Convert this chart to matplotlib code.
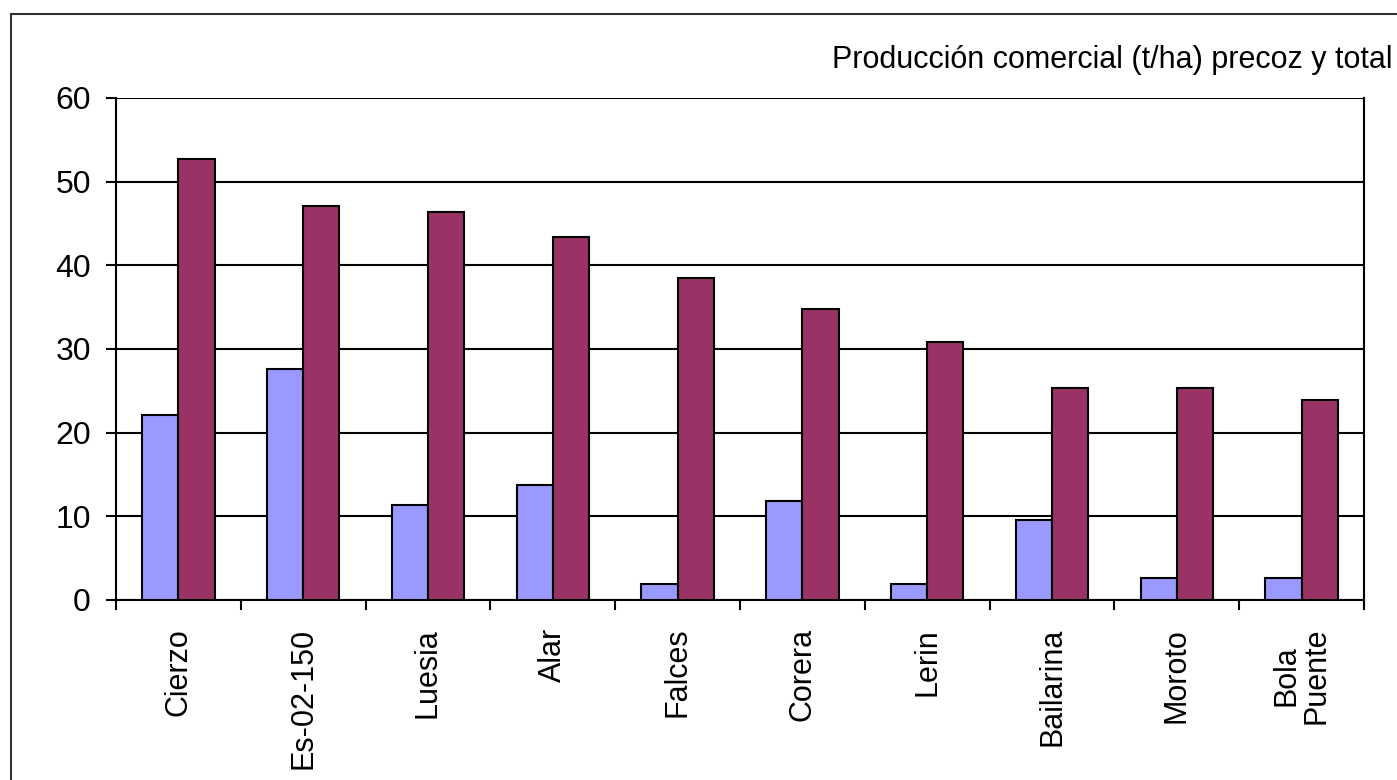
import numpy as np
import matplotlib.pyplot as plt
from matplotlib.patches import Rectangle

plt.rcParams['font.family'] = ['Liberation Sans', 'DejaVu Sans']

# datos
variedades = ['Cierzo', 'Es-02-150', 'Luesia', 'Alar', 'Falces', 'Corera',
              'Lerin', 'Bailarina', 'Moroto', 'Bola\nPuente']
precoz = [22.1, 27.6, 11.4, 13.7, 1.9, 11.8, 1.9, 9.6, 2.6, 2.6]
total = [52.7, 47.1, 46.4, 43.4, 38.5, 34.8, 30.8, 25.3, 25.3, 23.9]
yticks = [0, 10, 20, 30, 40, 50, 60]

fig = plt.figure(figsize=(13.97, 7.8), dpi=100)
ax = fig.add_axes([0.0830, 0.2308, 0.8934, 0.6436])

# marco exterior
fig.patches.append(Rectangle((11/1397, -0.05), 1.2, 1 - 14/780 + 0.05,
                             transform=fig.transFigure, fill=False,
                             edgecolor='#333333', linewidth=1.5))

x = np.arange(len(variedades))
w = 0.29
ax.bar(x - w/2, precoz, w, color='#9999FF', edgecolor='black', linewidth=1.5, zorder=3)
ax.bar(x + w/2, total, w, color='#993366', edgecolor='black', linewidth=1.5, zorder=3)

ax.set_xlim(-0.5, len(variedades) - 0.5)
ax.set_ylim(0, 60)
ax.set_yticks(yticks)
ax.yaxis.grid(True, color='black', linewidth=1.5)
ax.set_axisbelow(True)

ax.set_xticks(x)
ax.set_xticklabels(variedades, rotation=90, fontsize=22, va='top', ha='center',
                   multialignment='center', linespacing=1.0)
ax.set_xticks(np.arange(len(variedades) + 1) - 0.5, minor=True)
ax.tick_params(axis='x', which='major', length=0, pad=20)
ax.tick_params(axis='x', which='minor', length=7, width=1.5, direction='out')
ax.tick_params(axis='y', length=7, width=1.5, direction='out', labelsize=23, pad=11)

for s in ['left', 'bottom', 'right']:
    ax.spines[s].set_linewidth(1.5)
    ax.spines[s].set_color('black')
ax.spines['top'].set_visible(False)

fig.text(1393/1397, 1 - 60/780, 'Producción comercial (t/ha) precoz y total',
         ha='right', va='center', fontsize=22)

fig.savefig('out.png', dpi=100)
